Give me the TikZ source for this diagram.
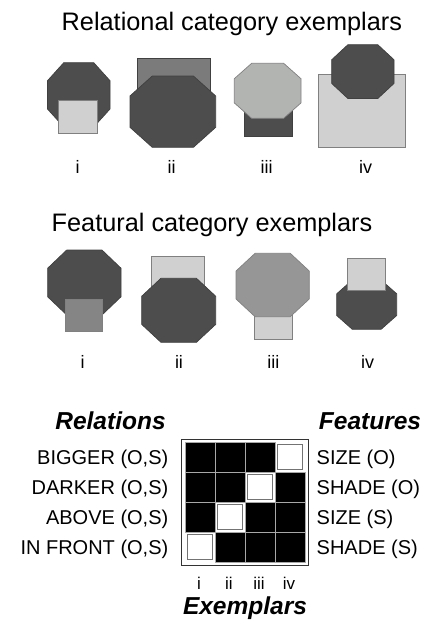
\documentclass[tikz,border=0pt]{standalone}
\usepackage{fontspec}
\setmainfont{Liberation Sans}
\definecolor{shdark}{HTML}{4D4D4D}
\definecolor{shlight}{HTML}{D0D0D0}
\definecolor{shmidA}{HTML}{7B7B7B}
\definecolor{shpale}{HTML}{B2B4B2}
\definecolor{shmidB}{HTML}{858585}
\definecolor{shmidC}{HTML}{969696}
\definecolor{sepgray}{HTML}{A8A8A8}
\newcommand{\octa}[5]{%
 \pgfmathsetmacro\ocx{0.26*(#3-#1)}%
 \pgfmathsetmacro\ocy{0.28*(#4-#2)}%
 \filldraw[#5] ({#1+\ocx},#2) -- ({#3-\ocx},#2) -- (#3,{#2+\ocy}) -- (#3,{#4-\ocy}) -- ({#3-\ocx},#4) -- ({#1+\ocx},#4) -- (#1,{#4-\ocy}) -- (#1,{#2+\ocy}) -- cycle;}
\begin{document}
\begin{tikzpicture}[x=1pt,y=-1pt,
  shp/.style={draw=black!75,line width=0.7pt},
  shplight/.style={draw=black!50,line width=0.7pt},
  title/.style={font=\fontsize{25.3}{29}\selectfont,inner sep=0pt,anchor=base west},
  lab/.style={font=\fontsize{18}{21}\selectfont,inner sep=0pt,anchor=base},
  rowlab/.style={font=\fontsize{20}{24}\selectfont,inner sep=0pt,anchor=base east},
  featlab/.style={font=\fontsize{20}{24}\selectfont,inner sep=0pt,anchor=base west},
  head/.style={font=\fontsize{24.5}{28}\selectfont\bfseries\itshape,inner sep=0pt,anchor=base},
  blackcell/.style={fill=black,draw=sepgray,line width=0.8pt},
  whitecell/.style={fill=white,draw=black!55,line width=1.2pt}]
\useasboundingbox (0,0) rectangle (429,627);
% titles
\node[title] (t1) at (61.5,30) {Relational category exemplars};
\node[title] (t2) at (51.5,231.7) {Featural category exemplars};
% relational row
\octa{47.5}{62.7}{110}{127}{shp,fill=shdark}
\filldraw[shplight,fill=shlight] (58.3,100.7) rectangle (97.3,133.3);
\filldraw[shp,fill=shmidA] (137.7,58.3) rectangle (210,120);
\octa{130}{76}{215.7}{147.3}{shp,fill=shdark}
\filldraw[shp,fill=shdark] (244.3,100) rectangle (292.7,136.7);
\octa{234.3}{63.3}{301}{118.3}{shplight,fill=shpale}
\filldraw[shplight,fill=shlight] (318.3,74) rectangle (405.7,147);
\octa{331.7}{44.7}{394}{98.5}{shp,fill=shdark}
\node[lab] (r1) at (77.7,173.3) {i};
\node[lab] (r2) at (171.7,173.3) {ii};
\node[lab] (r3) at (266.7,173.3) {iii};
\node[lab] (r4) at (365.7,173.3) {iv};
% featural row
\octa{47.7}{250}{121}{315}{shp,fill=shdark}
\filldraw[shplight,fill=shmidB] (65,299.3) rectangle (102.7,331);
\filldraw[shplight,fill=shlight] (151.7,256) rectangle (204.3,300);
\octa{141.7}{278.3}{215.7}{342.3}{shp,fill=shdark}
\filldraw[shplight,fill=shlight] (254.3,300) rectangle (292.7,339.3);
\octa{236}{253.3}{309.3}{316.7}{shplight,fill=shmidC}
\octa{336.7}{280}{396.7}{329.3}{shp,fill=shdark}
\filldraw[shplight,fill=shlight] (347.7,258.3) rectangle (385.7,290);
\node[lab] (f1) at (82.7,368.3) {i};
\node[lab] (f2) at (179,368.3) {ii};
\node[lab] (f3) at (273.3,368.3) {iii};
\node[lab] (f4) at (367.7,368.3) {iv};
% matrix
\node[head] (hr) at (110.5,429.5) {Relations};
\node[head] (hf) at (370,429.5) {Features};
\draw[black!80,line width=0.8pt] (181,439.3) rectangle (308.3,565.3);
\foreach \r in {0,...,3}{
  \foreach \c in {0,...,3}{
    \pgfmathtruncatemacro\w{\r+\c==3 ? 1 : 0}
    \ifnum\w=0
      \filldraw[blackcell] ({185+30*\c},{442+30*\r}) rectangle ++(30,30);
    \fi
  }
}
\foreach \r in {0,...,3}{
  \pgfmathtruncatemacro\c{3-\r}
  \filldraw[whitecell] ({185+30*\c+2.5},{442+30*\r+2.5}) rectangle ++(25,25);
}
\node[rowlab] (l1) at (168.5,464) {BIGGER (O,S)};
\node[rowlab] (l2) at (168.5,494) {DARKER (O,S)};
\node[rowlab] (l3) at (168.5,524) {ABOVE (O,S)};
\node[rowlab] (l4) at (168.5,554) {IN FRONT (O,S)};
\node[featlab] (s1) at (316.5,464) {SIZE (O)};
\node[featlab] (s2) at (316.5,494) {SHADE (O)};
\node[featlab] (s3) at (316.5,524) {SIZE (S)};
\node[featlab] (s4) at (316.5,554) {SHADE (S)};
\node[lab,font=\fontsize{17}{20}\selectfont] (c1) at (199,589.5) {i};
\node[lab,font=\fontsize{17}{20}\selectfont] (c2) at (229,589.5) {ii};
\node[lab,font=\fontsize{17}{20}\selectfont] (c3) at (259,589.5) {iii};
\node[lab,font=\fontsize{17}{20}\selectfont] (c4) at (289,589.5) {iv};
\node[head] (he) at (245,614) {Exemplars};
\end{tikzpicture}
\end{document}
